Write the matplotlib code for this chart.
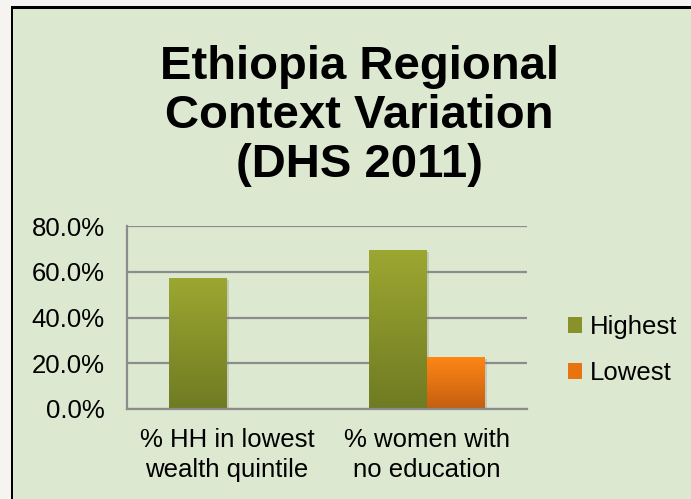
import matplotlib
matplotlib.use("Agg")
import matplotlib.pyplot as plt
import numpy as np
from matplotlib.patches import Rectangle
from matplotlib.colors import LinearSegmentedColormap

categories = ["% HH in lowest\nwealth quintile", "% women with\nno education"]
series_names = ["Highest", "Lowest"]
highest = [0.572, 0.694]
lowest = [0.003, 0.226]
yticks = [0.0, 0.2, 0.4, 0.6, 0.8]
title = "Ethiopia Regional\nContext Variation\n(DHS 2011)"

plt.rcParams['font.family'] = ['Liberation Sans', 'DejaVu Sans']

W, H = 691, 499
fig = plt.figure(figsize=(W/100, H/100), dpi=100, facecolor="#F5F4F0")
bg = "#DCE8CF"
bgax = fig.add_axes([0, 0, 1, 1], zorder=-10)
bgax.set_xlim(0, W)
bgax.set_ylim(H, 0)
bgax.axis("off")
bgax.add_patch(Rectangle((13, 8), W - 13, H - 8, facecolor=bg, edgecolor="none"))
bgax.add_patch(Rectangle((11, 6), 2.5, H - 6, facecolor="black", edgecolor="none"))
bgax.add_patch(Rectangle((11, 6), W - 11, 2.5, facecolor="black", edgecolor="none"))

ax = fig.add_axes([127/W, 90/H, 400/W, 183/H], zorder=5)
ax.set_facecolor("none")

x = np.arange(len(categories))
bw = 0.29
grad_green = LinearSegmentedColormap.from_list("g", ["#6F7B22", "#9CA731"])
grad_orange = LinearSegmentedColormap.from_list("o", ["#C45E10", "#FF8617"])

def grad_bars(xpos, vals, cmap):
    bars = ax.bar(xpos, vals, width=bw, color="none", edgecolor="none", zorder=3)
    for b in bars:
        bx, by = b.get_x(), b.get_y()
        bwid, bh = b.get_width(), b.get_height()
        sh = Rectangle((bx + 0.008, by - 0.006), bwid, bh, facecolor="#7a7a7a",
                       alpha=0.25, edgecolor="none", zorder=2.5)
        ax.add_patch(sh)
        grad = np.linspace(0, 1, 256).reshape(-1, 1)
        im = ax.imshow(grad, cmap=cmap, origin="lower", aspect="auto",
                       extent=[bx, bx + bwid, by, by + max(bh, 0.001)], zorder=3)
        im.set_clip_path(b)
    return bars

grad_bars(x - bw/2, highest, grad_green)
grad_bars(x + bw/2, lowest, grad_orange)

ax.set_xlim(-0.5, 1.5)
ax.set_ylim(0, 0.8)
ax.set_yticks(yticks)
ax.set_yticklabels([f"{v*100:.1f}%" for v in yticks])
ax.set_xticks(x)
ax.set_xticklabels(categories, linespacing=1.3)
ax.tick_params(axis="y", length=0, pad=16, labelsize=18.5)
ax.tick_params(axis="x", length=0, pad=14, labelsize=18.5)
for t in ax.get_xticklabels() + ax.get_yticklabels():
    t.set_color("black")

gc = "#8C8C8C"
ax.grid(axis="y", color=gc, linewidth=1.6, zorder=1)
ax.set_axisbelow(True)
for s in ["top", "right"]:
    ax.spines[s].set_visible(False)
ax.spines["left"].set_color(gc)
ax.spines["left"].set_linewidth(1.6)
ax.spines["bottom"].set_color(gc)
ax.spines["bottom"].set_linewidth(1.6)
ax.spines["bottom"].set_zorder(4)

handles = [Rectangle((0, 0), 1, 1, facecolor="#87932A"),
           Rectangle((0, 0), 1, 1, facecolor="#E8740F")]
leg = fig.legend(handles, series_names, loc="center left",
                 bbox_to_anchor=(545/W, 1 - 350/H), frameon=False, fontsize=18.5,
                 handlelength=0.55, handleheight=0.55, handletextpad=0.3, labelspacing=0.85)
leg.set_zorder(6)

fig.text(359/W, 1 - 116/H, title, ha="center", va="center", fontsize=34,
         fontweight="bold", linespacing=1.15, zorder=6)

fig.savefig("out.png", dpi=100, facecolor=fig.get_facecolor())
